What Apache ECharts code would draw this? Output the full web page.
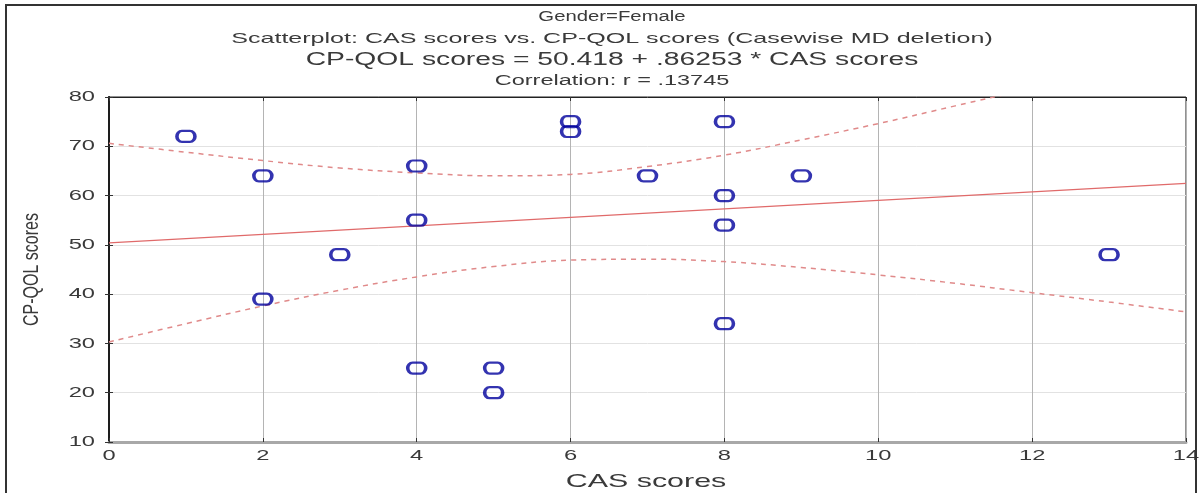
<!DOCTYPE html>
<html>
<head>
<meta charset="utf-8">
<script src="https://cdn.jsdelivr.net/npm/echarts@6/dist/echarts.min.js"></script>
<style>
  html, body { margin: 0; padding: 0; background: #fff; }
  #chart { width: 1202px; height: 493px; }
</style>
</head>
<body>
<div id="chart"></div>
<script>
// CAS scores (x) and CP-QOL scores (y), female respondents
const casScores  = [1, 2, 2, 3, 4, 4, 4, 5, 5, 6, 6, 7, 8, 8, 8, 8, 9, 13];
const qolScores  = [72, 64, 39, 48, 66, 55, 25, 25, 20, 75, 73, 64, 75, 60, 54, 34, 64, 48];

// Fitted line: CP-QOL = 50.418 + .86253 * CAS, over the axis range
const fitX = [0, 14];
const fitY = [50.418, 62.493];

// 95% confidence band for the fitted line
const bandX     = [0, 1, 2, 3, 4, 5, 6, 7, 8, 9, 10, 11, 12, 13, 14];
const bandUpper = [70.6, 68.8, 67.1, 65.6, 64.6, 64.0, 64.3, 65.9, 68.2, 71.3, 74.6, 78.2, 81.8, 85.6, 89.3];
const bandLower = [30.3, 34.0, 37.6, 40.8, 43.5, 45.6, 46.9, 47.1, 46.6, 45.4, 43.9, 42.2, 40.3, 38.4, 36.4];

const xTicks = [0, 2, 4, 6, 8, 10, 12, 14];
const yTicks = [10, 20, 30, 40, 50, 60, 70, 80];
const xName = 'CAS scores';
const yName = 'CP-QOL scores';

const titleLines = [
  'Gender=Female',
  'Scatterplot: CAS scores vs. CP-QOL scores (Casewise MD deletion)',
  'CP-QOL scores = 50.418 + .86253 * CAS scores',
  'Correlation: r = .13745'
];

const pair = (xs, ys) => xs.map((x, i) => [x, ys[i]]);
const FONT = '"Liberation Sans", Arial, sans-serif';
const TEXT = '#3a3a3a';
const WIDE = 1.58;               // horizontal stretch of all lettering

// stadium-shaped hollow marker
const ringPath = 'path://M5,0 L13,0 A5,5 0 0 1 13,10 L5,10 A5,5 0 0 1 5,0 Z';

const chart = echarts.init(document.getElementById('chart'), null, { renderer: 'canvas' });

const GRID = { left: 109, top: 97, width: 1077, height: 345 };

const tickStyle = { show: true, inside: true, length: 4, lineStyle: { color: '#333' } };

chart.setOption({
  animation: false,
  backgroundColor: '#fff',
  grid: Object.assign({ show: true, borderColor: '#222', borderWidth: 1 }, GRID),
  xAxis: [
    {
      type: 'value', min: xTicks[0], max: xTicks[xTicks.length - 1], interval: 2,
      axisLine: { show: true, onZero: false, lineStyle: { color: '#a8a8a8', width: 3 } },
      axisTick: tickStyle, axisLabel: { show: false },
      splitLine: { show: true, lineStyle: { color: '#b4b4b4', width: 1 } }
    },
    {
      type: 'value', position: 'top', min: xTicks[0], max: xTicks[xTicks.length - 1], interval: 2,
      axisLine: { show: true, lineStyle: { color: '#222', width: 1 } },
      axisTick: tickStyle, axisLabel: { show: false }, splitLine: { show: false }
    }
  ],
  yAxis: [
    {
      type: 'value', min: yTicks[0], max: yTicks[yTicks.length - 1], interval: 10,
      axisLine: { show: true, onZero: false, lineStyle: { color: '#111', width: 2 } },
      axisTick: tickStyle, axisLabel: { show: false },
      splitLine: { show: true, lineStyle: { color: '#e2e2e2', width: 1 } }
    },
    {
      type: 'value', position: 'right', min: yTicks[0], max: yTicks[yTicks.length - 1], interval: 10,
      axisLine: { show: true, lineStyle: { color: '#222', width: 1.5 } },
      axisTick: tickStyle, axisLabel: { show: false }, splitLine: { show: false }
    }
  ],
  series: [
    {
      type: 'line', data: pair(fitX, fitY), symbol: 'none',
      lineStyle: { color: '#e06a6a', width: 1.2 }, z: 3
    },
    {
      type: 'line', data: pair(bandX, bandUpper), symbol: 'none', smooth: 0.4, clip: true,
      lineStyle: { color: '#e08a8a', width: 1.5, type: [5, 5] }, z: 3
    },
    {
      type: 'line', data: pair(bandX, bandLower), symbol: 'none', smooth: 0.4, clip: true,
      lineStyle: { color: '#e08a8a', width: 1.5, type: [5, 5] }, z: 3
    },
    {
      type: 'scatter', data: pair(casScores, qolScores),
      symbol: ringPath, symbolSize: [18, 11], symbolKeepAspect: false,
      itemStyle: { color: 'rgba(255,255,255,0)', borderColor: '#00009c', borderWidth: 2.8 },
      z: 5
    }
  ]
});

// Lettering is drawn as stretched text elements placed through the axes.
function label(text, x, y, size, align, vAlign, extra) {
  return Object.assign({
    type: 'text', x: x, y: y, scaleX: WIDE, silent: true, z: 50,
    style: {
      x: 0, y: 0, text: text, fill: TEXT, font: size + 'px ' + FONT,
      textAlign: align, textVerticalAlign: vAlign
    }
  }, extra || {});
}

const px = (x, y) => chart.convertToPixel({ xAxisIndex: 0, yAxisIndex: 0 }, [x, y]);
const graphics = [
  { type: 'rect', shape: { x: 6, y: 5, width: 1190, height: 500 },
    style: { fill: 'none', stroke: '#333', lineWidth: 2 }, z: 100, silent: true }
];

const titleY    = [17, 39, 60, 81];
const titleSize = [14, 15, 18, 14];
const titleWide = [1.45, 1.67, 1.57, 1.68];
titleLines.forEach((t, i) => {
  graphics.push(label(t, 612, titleY[i], titleSize[i], 'center', 'middle', { scaleX: titleWide[i] }));
});

xTicks.forEach(v => {
  const p = px(v, yTicks[0]);
  graphics.push(label(String(v), p[0], p[1] + 6, 15, 'center', 'top'));
});
yTicks.forEach(v => {
  const p = px(xTicks[0], v);
  graphics.push(label(String(v), p[0] - 14, p[1], 15, 'right', 'middle'));
});

const bottomLeft = px(xTicks[0], yTicks[0]);
const topRight = px(xTicks[xTicks.length - 1], yTicks[yTicks.length - 1]);
graphics.push(label(xName, 646, bottomLeft[1] + 40, 19, 'center', 'middle', { scaleX: 1.6 }));
graphics.push(label(yName, 32, (bottomLeft[1] + topRight[1]) / 2, 16, 'center', 'middle',
  { scaleX: 1, scaleY: 1.35, rotation: Math.PI / 2 }));

chart.setOption({ graphic: graphics });
</script>
</body>
</html>
